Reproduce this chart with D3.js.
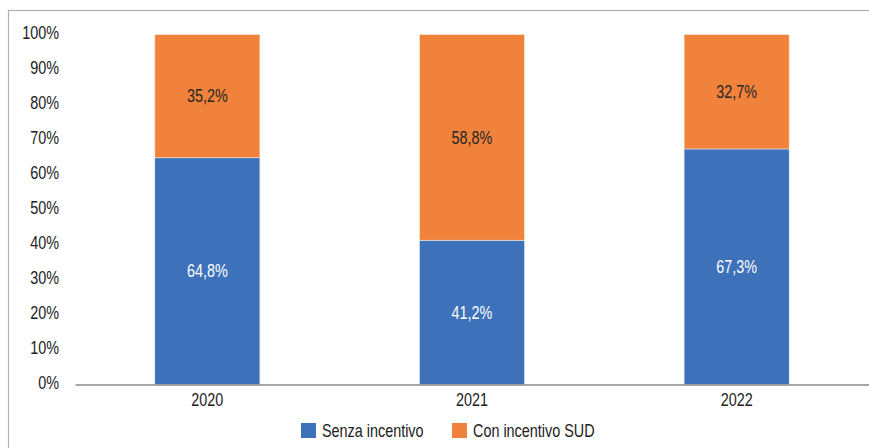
<!DOCTYPE html>
<html>
<head>
<meta charset="utf-8">
<script src="https://cdn.jsdelivr.net/npm/d3@7"></script>
<style>
  html, body { margin: 0; padding: 0; background: #fff; }
  svg { display: block; }
  text { font-family: "Liberation Sans Narrow", "Liberation Sans", Arial, sans-serif; }
</style>
</head>
<body>
<svg id="chart" width="869" height="448"></svg>
<script>
// Share of cases by year: without incentive vs. with SUD incentive (percent)
const years = ["2020", "2021", "2022"];
const senzaIncentivo = [64.8, 41.2, 67.3];
const conIncentivoSud = [35.2, 58.8, 32.7];
const seriesNames = ["Senza incentivo", "Con incentivo SUD"];
const yTicks = [0, 10, 20, 30, 40, 50, 60, 70, 80, 90, 100];

const colors = ["#3D71B9", "#F0823C"];
const labelColors = ["#ffffff", "#262626"];

const FONT_SIZE = 18;
const NARROW = "scale(0.8,1)"; // condensed look for all labels

const svg = d3.select("#chart");
const W = 869, H = 448;

// outer frame
svg.append("rect")
  .attr("x", 8.5).attr("y", 10.5)
  .attr("width", W + 10).attr("height", H + 10)
  .attr("fill", "none").attr("stroke", "#b0b0b0").attr("stroke-width", 1.2);

const x = d3.scaleBand()
  .domain(years)
  .range([75, 869])
  .paddingInner(0.603)
  .paddingOuter(0.3015);

const y = d3.scaleLinear().domain([0, 100]).range([384.5, 34.5]);

const rows = years.map((yr, i) => ({
  year: yr,
  "Senza incentivo": senzaIncentivo[i],
  "Con incentivo SUD": conIncentivoSud[i]
}));
const stacked = d3.stack().keys(seriesNames)(rows);

const fmt = v => d3.format(".1f")(v).replace(".", ",") + "%";

// bars
const layers = svg.append("g").selectAll("g")
  .data(stacked)
  .join("g")
  .attr("fill", (d, i) => colors[i]);

layers.selectAll("rect")
  .data(d => d)
  .join("rect")
  .attr("x", d => x(d.data.year))
  .attr("y", d => y(d[1]))
  .attr("width", x.bandwidth())
  .attr("height", d => y(d[0]) - y(d[1]))
  .attr("stroke", "rgba(255,255,255,0.55)")
  .attr("stroke-width", 0.8);

// value labels
stacked.forEach((layer, i) => {
  svg.append("g").selectAll("g")
    .data(layer)
    .join("g")
    .attr("transform", d =>
      `translate(${x(d.data.year) + x.bandwidth() / 2},${(y(d[0]) + y(d[1])) / 2})`)
    .append("text")
    .attr("transform", NARROW)
    .attr("dy", "0.35em")
    .attr("text-anchor", "middle")
    .attr("font-size", FONT_SIZE)
    .attr("fill", labelColors[i])
    .text(d => fmt(d[1] - d[0]));
});

// y axis labels (no axis line)
const yAxis = d3.axisLeft(y)
  .tickValues(yTicks)
  .tickSize(0)
  .tickPadding(0)
  .tickFormat(d => d + "%");
const gy = svg.append("g").attr("transform", "translate(59,-2)").call(yAxis);
gy.select(".domain").remove();
gy.selectAll("text")
  .attr("x", 0)
  .attr("transform", NARROW)
  .attr("font-size", FONT_SIZE)
  .attr("fill", "#222")
  .style("font-family", "'Liberation Sans Narrow', 'Liberation Sans', Arial, sans-serif");

// x axis baseline and labels
const xAxis = d3.axisBottom(x).tickSize(0).tickPadding(9);
const gx = svg.append("g").attr("transform", "translate(0,384.5)").call(xAxis);
gx.select(".domain").attr("stroke", "#8a8a8a").attr("stroke-width", 1.3);
gx.selectAll("text")
  .attr("transform", NARROW)
  .attr("font-size", FONT_SIZE)
  .attr("fill", "#222")
  .style("font-family", "'Liberation Sans Narrow', 'Liberation Sans', Arial, sans-serif");

// legend
const legendX = [301, 452];
const legend = svg.append("g").selectAll("g")
  .data(seriesNames)
  .join("g")
  .attr("transform", (d, i) => `translate(${legendX[i]},423)`);
legend.append("rect")
  .attr("width", 15).attr("height", 15)
  .attr("fill", (d, i) => colors[i]);
legend.append("g")
  .attr("transform", "translate(21,7.5)")
  .append("text")
  .attr("transform", NARROW)
  .attr("dy", "0.35em")
  .attr("font-size", FONT_SIZE)
  .attr("fill", "#222")
  .text(d => d);
</script>
</body>
</html>
